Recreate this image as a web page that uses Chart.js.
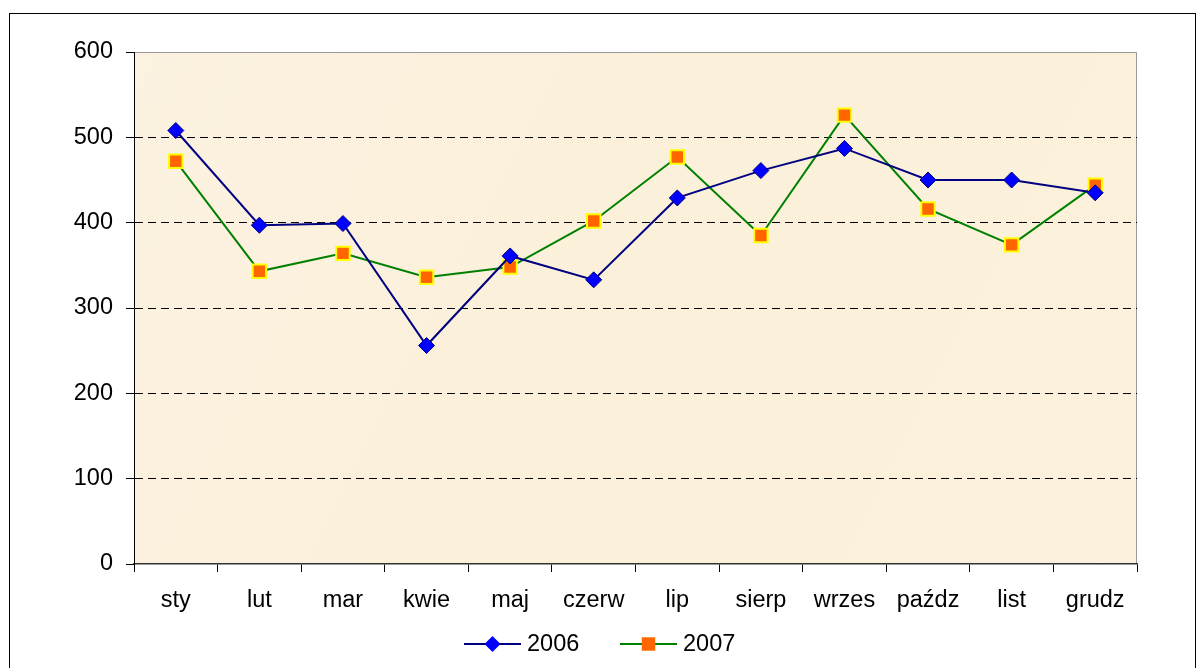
<!DOCTYPE html>
<html>
<head>
<meta charset="utf-8">
<script src="https://cdn.jsdelivr.net/npm/chart.js@4/dist/chart.umd.min.js"></script>
<style>
  html, body { margin: 0; padding: 0; background: #fff; }
  #wrap { width: 1197px; height: 668px; }
</style>
</head>
<body>
<div id="wrap"><canvas id="chart" width="1197" height="668"></canvas></div>
<script>
// Months (Polish abbreviations) and yearly values
const months = ["sty", "lut", "mar", "kwie", "maj", "czerw", "lip", "sierp", "wrzes", "paźdz", "list", "grudz"];
const values2006 = [508, 397, 399, 256, 361, 333, 429, 461, 487, 450, 450, 435];
const values2007 = [472, 343, 364, 336, 348, 402, 477, 385, 526, 416, 374, 444];
const yTicks = [0, 100, 200, 300, 400, 500, 600];

const FONT = "'Liberation Sans', Arial, sans-serif";
const FONT_SIZE = 23.5;

// Frame, plot background and legend drawn around the chart
const decorations = {
  id: "decorations",
  beforeDraw(chart) {
    const { ctx, chartArea: a } = chart;
    ctx.save();
    ctx.fillStyle = "#fff";
    ctx.fillRect(0, 0, chart.width, chart.height);
    ctx.strokeStyle = "#000";
    ctx.lineWidth = 1;
    ctx.strokeRect(9.5, 13.5, 1186, 700);

    const g = ctx.createLinearGradient(a.left, a.top, a.right, a.bottom);
    g.addColorStop(0, "#fcf2e1");
    g.addColorStop(0.5, "#fbf0d9");
    g.addColorStop(1, "#fcf1dc");
    ctx.fillStyle = g;
    ctx.fillRect(a.left, a.top, a.right - a.left, a.bottom - a.top);
    ctx.strokeStyle = "#999";
    ctx.beginPath();
    ctx.moveTo(a.left, a.top + 0.5);
    ctx.lineTo(a.right - 0.5, a.top + 0.5);
    ctx.lineTo(a.right - 0.5, a.bottom);
    ctx.stroke();
    ctx.restore();
  },
  afterDraw(chart) {
    const { ctx } = chart;
    const y = 644;
    const items = [
      { ds: chart.data.datasets[0], x: 464 },
      { ds: chart.data.datasets[1], x: 620 }
    ];
    ctx.save();
    ctx.font = FONT_SIZE + "px " + FONT;
    ctx.textBaseline = "middle";
    items.forEach(({ ds, x }) => {
      ctx.strokeStyle = ds.borderColor;
      ctx.lineWidth = ds.borderWidth;
      ctx.beginPath();
      ctx.moveTo(x, y);
      ctx.lineTo(x + 57, y);
      ctx.stroke();
      ctx.fillStyle = ds.pointBackgroundColor;
      ctx.strokeStyle = ds.pointBorderColor;
      ctx.lineWidth = ds.pointBorderWidth;
      Chart.helpers.drawPoint(ctx, {
        pointStyle: ds.pointStyle,
        radius: ds.pointRadius,
        rotation: 0
      }, x + 28.5, y);
      ctx.fillStyle = "#000";
      ctx.fillText(ds.label, x + 63, y + 1);
    });
    ctx.restore();
  }
};

new Chart(document.getElementById("chart"), {
  type: "line",
  data: {
    labels: months,
    datasets: [
      {
        label: "2006",
        data: values2006,
        borderColor: "#000080",
        borderWidth: 2,
        pointStyle: "rectRot",
        pointRadius: 8,
        pointBackgroundColor: "#0000ff",
        pointBorderColor: "#000080",
        pointBorderWidth: 1,
        tension: 0
      },
      {
        label: "2007",
        data: values2007,
        borderColor: "#008000",
        borderWidth: 2,
        pointStyle: "rect",
        pointRadius: 9.5,
        pointBackgroundColor: "#ff6600",
        pointBorderColor: "#ffff00",
        pointBorderWidth: 2,
        tension: 0
      }
    ]
  },
  options: {
    responsive: false,
    animation: false,
    devicePixelRatio: 1,
    layout: { padding: { left: 0, top: 52, right: 60, bottom: 54 } },
    plugins: {
      legend: { display: false },
      tooltip: { enabled: false }
    },
    scales: {
      x: {
        offset: true,
        afterFit: (s) => { s.height = 50; },
        grid: {
          offset: true,
          drawOnChartArea: false,
          tickLength: 8,
          tickColor: "#000"
        },
        border: { color: "#333", width: 1.5 },
        ticks: {
          color: "#000",
          font: { family: FONT, size: FONT_SIZE },
          padding: 14,
          maxRotation: 0,
          autoSkip: false
        }
      },
      y: {
        min: 0,
        max: 600,
        afterFit: (s) => { s.width = 134; },
        afterBuildTicks: (s) => { s.ticks = yTicks.map((v) => ({ value: v })); },
        grid: {
          color: (c) => (c.tick && (c.tick.value === 0 || c.tick.value === 600)) ? "rgba(0,0,0,0)" : "#000",
          lineWidth: 1,
          tickLength: 8,
          tickColor: "#000"
        },
        border: { color: "#000", width: 1, dash: [8, 5] },
        ticks: {
          color: "#000",
          font: { family: FONT, size: FONT_SIZE },
          padding: 13
        }
      }
    }
  },
  plugins: [decorations]
});
</script>
</body>
</html>
